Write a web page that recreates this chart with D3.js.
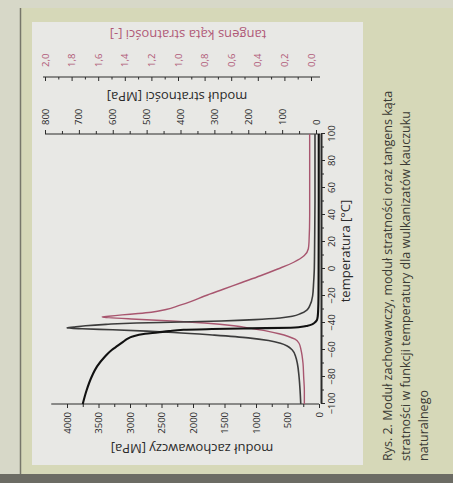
<!DOCTYPE html>
<html><head><meta charset="utf-8">
<script src="https://cdn.jsdelivr.net/npm/d3@7"></script>
<style>body{margin:0;background:#d9dac9;}svg{display:block;}</style>
</head><body>
<svg id="c" width="453" height="483"></svg>
<script>
// ---- data ----
const tempTicks = [-100,-80,-60,-40,-20,0,20,40,60,80,100];
const storageTicks = [0,500,1000,1500,2000,2500,3000,3500,4000];
const lossTicks = [0,100,200,300,400,500,600,700,800];
const tanTicks = [0,0.2,0.4,0.6,0.8,1.0,1.2,1.4,1.6,1.8,2.0];

const tempStorage = [-100,-90,-80,-72,-65,-60,-57,-54,-52,-50,-48,-47,-46,-45,-44.5,-44,-43.5,-43,-42,-41,-40,-38,-35,-30,-20,0,20,50,100];
const storageModulus = [3750,3690,3610,3520,3400,3290,3200,3110,3050,2960,2760,2560,2380,2150,1700,1100,450,300,180,110,75,35,20,13,8,6,5,4,4];

const tempLoss = [-100,-90,-80,-70,-65,-60,-57,-55,-53,-51,-49,-47,-46,-45,-44.3,-43.7,-43,-42,-41,-40,-39.3,-38.5,-37.5,-36.3,-35,-33,-30.4,-27,-20,-10,0,20,50,100];
const lossModulus = [45,47,50,55,60,70,85,105,140,200,300,420,500,600,690,735,715,680,620,530,400,280,180,106,70,45,27,18,10,7,5,4,3,3];

const tempTan = [-100,-90,-80,-70,-60,-55,-52,-50,-48,-46,-44,-42,-40,-38.5,-37,-36,-35.6,-35,-34,-33,-32,-30,-27,-24,-20,-15,-10,-5,0,5,10,15,20,40,60,80,100];
const tanDelta = [0.05,0.05,0.055,0.06,0.075,0.09,0.12,0.17,0.24,0.33,0.45,0.58,0.8,1.05,1.35,1.52,1.57,1.52,1.42,1.3,1.2,1.09,0.99,0.9,0.8,0.66,0.52,0.38,0.25,0.13,0.05,0.02,0.015,0.01,0.01,0.01,0.01];

const captionLines = [
  "Rys. 2. Moduł zachowawczy, moduł stratności oraz tangens kąta",
  "stratności w funkcji temperatury dla wulkanizatów kauczuku",
  "naturalnego"
];

// ---- drawing ----
const svg = d3.select("#c");
const W = 453, H = 483;
svg.append("rect").attr("x",0).attr("y",0).attr("width",W).attr("height",H).attr("fill","#d7d8c8");
svg.append("rect").attr("x",21).attr("y",8).attr("width",W-21).attr("height",466).attr("fill","#d6d8b8");
svg.append("line").attr("x1",20.5).attr("x2",20.5).attr("y1",8).attr("y2",474).attr("stroke","#77776a").attr("stroke-width",1.5);
svg.append("rect").attr("x",0).attr("y",474).attr("width",W).attr("height",9).attr("fill","#6c6c64");
svg.append("rect").attr("x",32).attr("y",22).attr("width",331).attr("height",443).attr("fill","#e8e8e5");

// upright chart frame, rotated -90deg: screen x = v, screen y = 483 - u
const g = svg.append("g").attr("transform","translate(0,483) rotate(-90)");
const fontF = "'Open Sans', 'DejaVu Sans', sans-serif";

const x = d3.scaleLinear().domain([-100,100]).range([79,349]);
const yL = d3.scaleLinear().domain([0,4000]).range([319,67]);
const yR = d3.scaleLinear().domain([0,800]).range([316,45]);
const yT = d3.scaleLinear().domain([0,2]).range([311,45]);
const pink = "#b05a78";

function styleAxis(sel, color){
  sel.selectAll("path.domain").attr("stroke","#2a2a2a").attr("stroke-width",1.1);
  sel.selectAll(".tick line").attr("stroke","#2a2a2a");
  sel.selectAll(".tick text").attr("font-family",fontF).attr("font-size",9.5).attr("fill",color||"#2a2a2a");
}

// bottom axis (temperature)
const xMinor = g.append("g").attr("transform","translate(0,321)")
  .call(d3.axisBottom(x).tickValues(d3.range(-90,100,20)).tickSize(3).tickFormat(""));
xMinor.select("path.domain").remove();
xMinor.selectAll(".tick line").attr("stroke","#2a2a2a");
const xa = g.append("g").attr("transform","translate(0,321)")
  .call(d3.axisBottom(x).tickValues(tempTicks).tickSize(4).tickSizeOuter(0).tickPadding(3).tickFormat(d3.format("d")));
styleAxis(xa);
xa.select("path.domain").attr("stroke-width",2);

// left axis (storage modulus)
const yLMinor = g.append("g").attr("transform","translate(79,0)")
  .call(d3.axisLeft(yL).tickValues(d3.range(250,4250,500)).tickSize(3).tickFormat(""));
yLMinor.select("path.domain").remove();
yLMinor.selectAll(".tick line").attr("stroke","#2a2a2a");
const yla = g.append("g").attr("transform","translate(79,0)")
  .call(d3.axisLeft(yL).tickValues(storageTicks).tickSize(4).tickSizeOuter(0).tickPadding(4).tickFormat(d3.format("d")));
styleAxis(yla);
yla.select("path.domain").attr("d","M0,"+yL(0)+"V"+yL(4250));

// right axis 1 (loss modulus)
const yRMinor = g.append("g").attr("transform","translate(349,0)")
  .call(d3.axisRight(yR).tickValues(d3.range(50,800,100)).tickSize(3).tickFormat(""));
yRMinor.select("path.domain").remove();
yRMinor.selectAll(".tick line").attr("stroke","#2a2a2a");
const yra = g.append("g").attr("transform","translate(349,0)")
  .call(d3.axisRight(yR).tickValues(lossTicks).tickSize(4).tickSizeOuter(0).tickPadding(5).tickFormat(d3.format("d")));
styleAxis(yra);
yra.select("path.domain").attr("d","M0,"+(yR(0)+4)+"V"+yR(800));

// right axis 2 (tan delta), ticks inward, labels outside
const yTMinor = g.append("g").attr("transform","translate(406,0)")
  .call(d3.axisLeft(yT).tickValues(d3.range(0.1,2.0,0.2)).tickSize(2.5).tickFormat(""));
yTMinor.select("path.domain").remove();
yTMinor.selectAll(".tick line").attr("stroke","#2a2a2a");
const yta = g.append("g").attr("transform","translate(406,0)")
  .call(d3.axisRight(yT).tickValues(tanTicks).tickSize(0).tickSizeOuter(0).tickPadding(10)
    .tickFormat(d => d3.format(".1f")(d).replace(".",",")));
styleAxis(yta, pink);
yta.selectAll(".tick").append("line").attr("x2",-4).attr("stroke","#2a2a2a");
yta.select("path.domain").attr("d","M0,"+(yT(0)+9)+"V"+(yT(2)-2));

// axis titles
function vTitle(u, v, txt, color){
  g.append("text").attr("transform","translate("+u+","+v+") rotate(-90)")
    .attr("text-anchor","middle").attr("dy","0.35em")
    .attr("font-family",fontF).attr("font-size",13).attr("fill",color).text(txt);
}
vTitle(34, 192, "moduł zachowawczy [MPa]", "#2a2a2a");
vTitle(386, 177, "moduł stratności [MPa]", "#2a2a2a");
vTitle(448, 188, "tangens kąta stratności [-]", pink);
g.append("text").attr("x",232).attr("y",345).attr("dy","0.35em").attr("text-anchor","middle")
  .attr("font-family",fontF).attr("font-size",13).attr("fill","#2a2a2a").text("temperatura [°C]");

// curves
const curve = d3.curveMonotoneX;
const lineS = d3.line().x((d,i)=>x(tempStorage[i])).y(d=>yL(d)).curve(curve);
const lineL = d3.line().x((d,i)=>x(tempLoss[i])).y(d=>yR(d)).curve(curve);
const lineT = d3.line().x((d,i)=>x(tempTan[i])).y(d=>yT(d)).curve(curve);
g.append("path").attr("d",lineT(tanDelta)).attr("fill","none").attr("stroke","#a8566f").attr("stroke-width",1.4);
g.append("path").attr("d",lineL(lossModulus)).attr("fill","none").attr("stroke","#3c3c3c").attr("stroke-width",1.6);
g.append("path").attr("d",lineS(storageModulus)).attr("fill","none").attr("stroke","#111").attr("stroke-width",2.1);

// caption
captionLines.forEach((t,i)=>{
  g.append("text").attr("x",22).attr("y",388+i*18).attr("dy","0.35em")
    .attr("font-family",fontF).attr("font-size",12.5).attr("fill","#3a3a34").text(t);
});
</script>
</body></html>
